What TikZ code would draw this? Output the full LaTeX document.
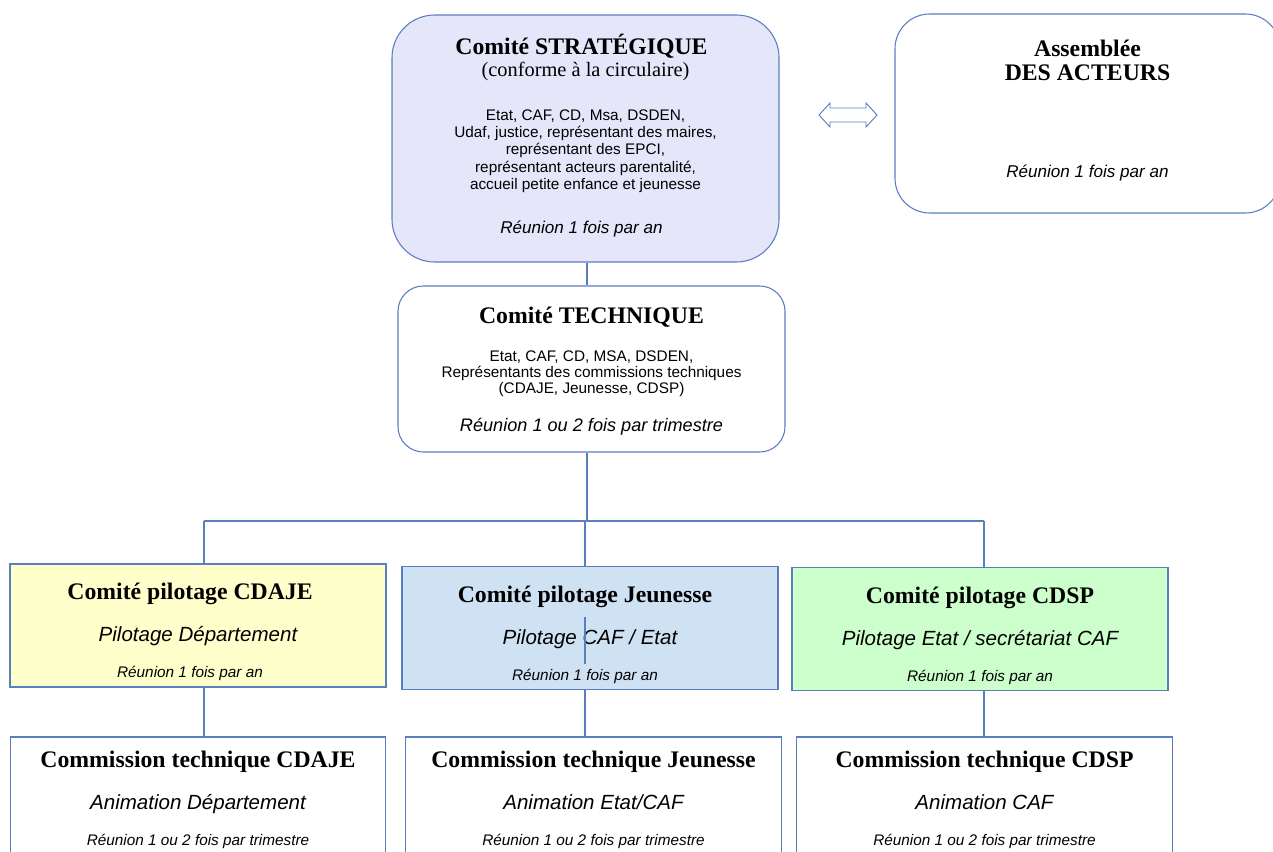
\documentclass[tikz,border=0pt]{standalone}
\usepackage{fontspec}
\setmainfont{Liberation Serif}
\setsansfont{Liberation Sans}
\definecolor{frame}{HTML}{5A7EBE}
\definecolor{stratfill}{HTML}{E6E6FA}
\definecolor{cdajefill}{HTML}{FFFFCC}
\definecolor{jeunfill}{HTML}{CFE2F3}
\definecolor{cdspfill}{HTML}{CCFFCC}
\newcommand\ttl{\rmfamily\bfseries\fontsize{17.8}{20}\selectfont}
\newcommand\cnf{\rmfamily\fontsize{15.3}{18}\selectfont}
\newcommand\reu{\sffamily\itshape\fontsize{12.8}{15}\selectfont}
\newcommand\reutri{\sffamily\itshape\fontsize{13.6}{16}\selectfont}
\newcommand\pil{\sffamily\itshape\fontsize{15.4}{18}\selectfont}
\newcommand\reusmall{\sffamily\itshape\fontsize{11.5}{13}\selectfont}
% invisible struts to push a box's text up or down
\newcommand\topgap[1]{\rule{0pt}{#1}}
\newcommand\botgap[1]{\rule[-#1]{0pt}{#1}}
\begin{document}
\begin{tikzpicture}[
  x=0.75pt, y=-0.75pt,
  base/.style={draw=frame, line width=0.8pt, align=center, inner sep=0pt,
    font=\sffamily\fontsize{11.5}{13}\selectfont},
  roundbox/.style={base, rounded corners=#1},
  squarebox/.style={base, minimum width=282pt, minimum height=92.25pt},
  commbox/.style={base, fill=white, minimum width=281.5pt, minimum height=94.5pt},
  link/.style={draw=frame, line width=0.8pt}
]
\useasboundingbox (0,0) rectangle (1273,852);
\clip (0,0) rectangle (1273,852);

% upper level
\node[roundbox=32pt, fill=stratfill, minimum width=290.25pt, minimum height=185.25pt] (strat) at (585.5,138.5)
  {{\ttl Comité STRATÉGIQUE}\hspace*{6pt}\\[2pt]
   {\cnf (conforme à la circulaire)}\hspace*{6pt}\\[20pt]
   Etat, CAF, CD, Msa, DSDEN,\hspace*{6pt}\\
   Udaf, justice, représentant des maires,\hspace*{6pt}\\
   représentant des EPCI,\hspace*{6pt}\\
   représentant acteurs parentalité,\hspace*{6pt}\\
   accueil petite enfance et jeunesse\hspace*{6pt}\\[20pt]
   {\reu Réunion 1 fois par an}\hspace*{6pt}\botgap{7.2pt}};
\node[roundbox=26pt, fill=white, minimum width=288.75pt, minimum height=149.25pt] (assem) at (1087.5,113.5)
  {{\ttl Assemblée}\\[5.5pt]
   {\ttl DES ACTEURS}\\[59.75pt]
   {\reu Réunion 1 fois par an}\botgap{7.2pt}};
\node[roundbox=19pt, fill=white, minimum width=290.25pt, minimum height=124.5pt] (tech) at (591.5,369)
  {\topgap{15.3pt}{\ttl Comité TECHNIQUE}\\[16pt]
   Etat, CAF, CD, MSA, DSDEN,\\[-1pt]
   Représentants des commissions techniques\\[-1pt]
   (CDAJE, Jeunesse, CDSP)\\[15pt]
   {\reutri Réunion 1 ou 2 fois par trimestre}};

% double arrow between the two upper boxes
\coordinate (dbl) at (848,115);
\draw[frame, line width=0.7pt, fill=white, shift={(dbl)}]
  (-29,0) -- (-18,-12) -- (-18,-7) -- (18,-7) -- (18,-12) -- (29,0)
  -- (18,12) -- (18,7) -- (-18,7) -- (-18,12) -- cycle;

% pilot committees
\node[squarebox, fill=cdajefill] (pA) at (198,625.5)
  {\topgap{22.3pt}{\ttl Comité pilotage CDAJE}\hspace*{12pt}\\[15.5pt]
   {\pil Pilotage Département}\hspace*{12pt}\\[14pt]
   {\reusmall Réunion 1 fois par an}\hspace*{12pt}};
\node[squarebox, fill=jeunfill] (pB) at (590,628)
  {\topgap{22.3pt}{\ttl Comité pilotage Jeunesse}\hspace*{7.5pt}\\[15.5pt]
   {\pil Pilotage CAF / Etat}\hspace*{7.5pt}\\[14pt]
   {\reusmall Réunion 1 fois par an}\hspace*{7.5pt}};
\node[squarebox, fill=cdspfill] (pC) at (980,629)
  {\topgap{22.3pt}{\ttl Comité pilotage CDSP}\\[15.5pt]
   {\pil Pilotage Etat / secrétariat CAF}\\[14pt]
   {\reusmall Réunion 1 fois par an}};

% technical commissions
\node[commbox] (cA) at (198,800)
  {{\ttl Commission technique CDAJE}\\[15.5pt]
   {\pil Animation Département}\\[14pt]
   {\reusmall Réunion 1 ou 2 fois par trimestre}};
\node[commbox] (cB) at (593.5,800)
  {{\ttl Commission technique Jeunesse}\\[15.5pt]
   {\pil Animation Etat/CAF}\\[14pt]
   {\reusmall Réunion 1 ou 2 fois par trimestre}};
\node[commbox] (cC) at (984.5,800)
  {{\ttl Commission technique CDSP}\\[15.5pt]
   {\pil Animation CAF}\\[14pt]
   {\reusmall Réunion 1 ou 2 fois par trimestre}};

% connectors
\coordinate (bus) at (587,521);
\coordinate (jA) at (204,521);
\coordinate (jB) at (585,521);
\coordinate (jC) at (984,521);
\coordinate (stubT) at (585,617);
\coordinate (stubB) at (585,664);
\draw[link] (strat.south -| bus) -- (bus |- tech.north);
\draw[link] (bus |- tech.south) -- (bus);
\draw[link] (jA) -- (jC);
\draw[link] (jA) -- (jA |- pA.north);
\draw[link] (jB) -- (jB |- pB.north);
\draw[link] (jC) -- (jC |- pC.north);
\draw[link] (stubT) -- (stubB);
\draw[link] (pA.south -| jA) -- (cA.north -| jA);
\draw[link] (pB.south -| jB) -- (cB.north -| jB);
\draw[link] (pC.south -| jC) -- (cC.north -| jC);
\end{tikzpicture}
\end{document}
